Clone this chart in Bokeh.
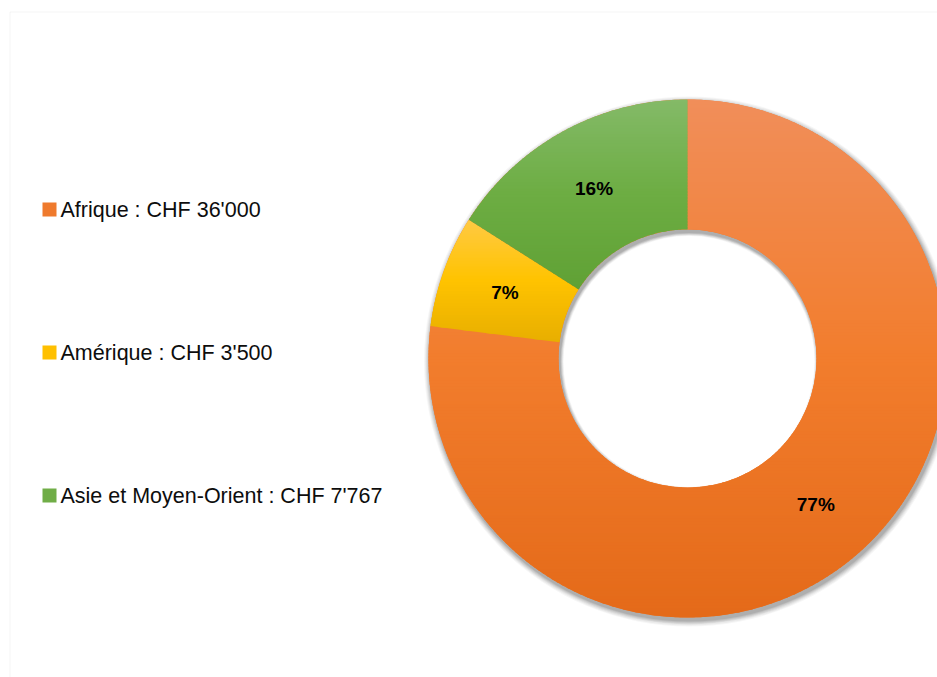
import math
from bokeh.plotting import figure
from bokeh.models import Range1d, BoxAnnotation
from bokeh.core.properties import value
from bokeh.embed import file_html
from bokeh.resources import INLINE

# ---------------- data ----------------
categories = ["Afrique", "Amérique", "Asie et Moyen-Orient"]
amounts = ["CHF 36'000", "CHF 3'500", "CHF 7'767"]
shares = [77, 7, 16]
pct_labels = ["77%", "7%", "16%"]

# ---------------- style ----------------
TOP = ["#F18E5A", "#FFCA45", "#84BA68"]
MID = ["#F27D2D", "#FFC300", "#6DAD43"]
BOT = ["#E46A19", "#E8AF00", "#60A135"]
LEG = ["#EF7A2D", "#FFC000", "#70AD47"]
FONT = "Liberation Sans"

W, H = 937, 677
CX, CY = 687.0, 319.0
R_OUT, R_IN = 259.0, 129.0

p = figure(width=W, height=H, x_range=Range1d(0, W), y_range=Range1d(0, H),
           x_axis_type=None, y_axis_type=None, output_backend="svg",
           toolbar_location=None, min_border=0, outline_line_color=None,
           background_fill_color="white", border_fill_color="white")
p.grid.visible = False

# chart border
p.add_layout(BoxAnnotation(left=9.5, right=W + 50, top=665.5, bottom=-50,
                           fill_alpha=0, line_color="#D9D9D9", line_width=1))

# soft shadow
for s, a in [(6, 0.035), (5, 0.045), (4, 0.055), (3, 0.065), (2, 0.075), (1, 0.085)]:
    p.annulus(x=CX + 1.5, y=CY - 3, inner_radius=R_IN - s * 0.6,
              outer_radius=R_OUT + s, fill_color="black", fill_alpha=a,
              line_color=None)

# underlay to hide seams
p.annulus(x=CX, y=CY, inner_radius=R_IN, outer_radius=R_OUT,
          fill_color=MID[0], line_color=None)


def hex2rgb(h):
    h = h.lstrip("#")
    return tuple(int(h[i:i + 2], 16) for i in (0, 2, 4))


def lerp(c1, c2, t):
    a, b = hex2rgb(c1), hex2rgb(c2)
    return "#%02x%02x%02x" % tuple(int(round(a[i] + (b[i] - a[i]) * t)) for i in range(3))


def sector(a0, a1):
    n = max(8, int(math.degrees(a1 - a0) * 2))
    pts = []
    for i in range(n + 1):
        a = a0 + (a1 - a0) * i / n
        pts.append((CX + R_OUT * math.sin(a), CY + R_OUT * math.cos(a)))
    for i in range(n + 1):
        a = a1 - (a1 - a0) * i / n
        pts.append((CX + R_IN * math.sin(a), CY + R_IN * math.cos(a)))
    return pts


def clip(poly, y, above):
    out = []
    n = len(poly)
    for i in range(n):
        c, pv = poly[i], poly[i - 1]
        cin = c[1] >= y if above else c[1] <= y
        pin = pv[1] >= y if above else pv[1] <= y
        if cin != pin:
            t = (y - pv[1]) / (c[1] - pv[1])
            out.append((pv[0] + t * (c[0] - pv[0]), y))
        if cin:
            out.append(c)
    return out


total = float(sum(shares))
xs, ys, cols = [], [], []
lab_x, lab_y = [], []
start = 0.0
for k, v in enumerate(shares):
    a0 = start
    a1 = start + 2 * math.pi * v / total
    start = a1
    poly = sector(a0, a1)
    ytop = max(q[1] for q in poly)
    ybot = min(q[1] for q in poly)
    h = 3.0
    nb = int(math.ceil((ytop - ybot) / h))
    for i in range(nb):
        y_hi = ytop - i * h + (1.0 if i > 0 else 0.5)
        y_lo = ytop - (i + 1) * h
        piece = clip(clip(poly, y_lo, True), y_hi, False)
        if len(piece) < 3:
            continue
        t = ((i + 0.5) * h) / (ytop - ybot)
        t = min(max(t, 0.0), 1.0)
        col = lerp(TOP[k], MID[k], t / 0.5) if t < 0.5 else lerp(MID[k], BOT[k], (t - 0.5) / 0.5)
        xs.append([q[0] for q in piece])
        ys.append([q[1] for q in piece])
        cols.append(col)
    am = (a0 + a1) / 2
    rm = (R_OUT + R_IN) / 2
    lab_x.append(CX + rm * math.sin(am))
    lab_y.append(CY + rm * math.cos(am))

p.patches(xs=xs, ys=ys, fill_color=cols, line_color=None)

p.text(x=lab_x, y=lab_y, text=pct_labels, text_font=value(FONT),
       text_font_style="bold", text_font_size="19px", text_align="center",
       text_baseline="middle", text_color="#000000")

# legend
LEG_X, LEG_TOP, LEG_STEP = 49.0, 468.0, 143.0
ly = [LEG_TOP - i * LEG_STEP for i in range(len(categories))]
p.scatter(x=[LEG_X] * len(categories), y=ly, marker="square", size=14,
          fill_color=LEG, line_color=None)
p.text(x=[LEG_X + 11] * len(categories), y=ly,
       text=[f"{c} : {a}" for c, a in zip(categories, amounts)],
       text_font=value(FONT), text_font_size="21.5px", text_align="left",
       text_baseline="middle", text_color="#0D0D0D")

open("out.html", "w").write(file_html(p, INLINE))
